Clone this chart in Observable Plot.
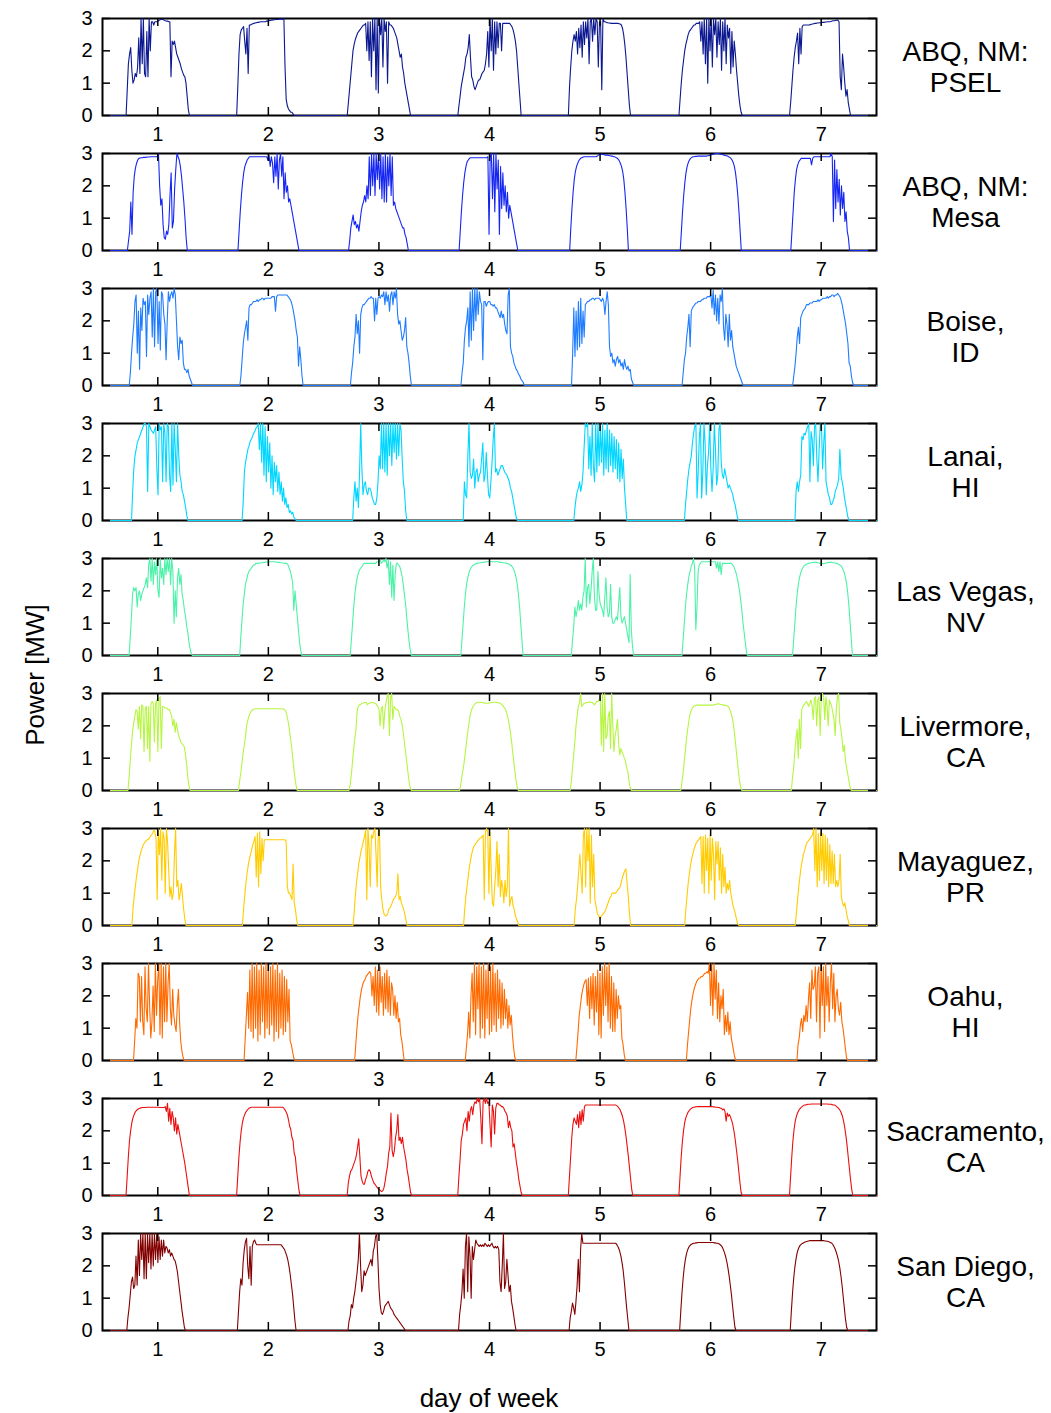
<!DOCTYPE html>
<html><head><meta charset="utf-8">
<script src="https://cdn.jsdelivr.net/npm/d3@7"></script>
<script src="https://cdn.jsdelivr.net/npm/@observablehq/plot@0.6"></script>
<style>
body{margin:0;background:#fff;font-family:"Liberation Sans",Arial,sans-serif;}
#chart{position:relative;width:1051px;height:1413px;background:#fff;overflow:hidden;}
.panel{position:absolute;left:0;}
#ylab{position:absolute;left:35px;top:675px;transform:translate(-50%,-50%) rotate(-90deg);font-size:26px;white-space:nowrap;}
#xlab{position:absolute;left:489px;top:1398px;transform:translate(-50%,-50%);font-size:26px;white-space:nowrap;}
</style></head><body>
<div id="chart"><div id="ylab">Power [MW]</div><div id="xlab">day of week</div></div>
<script>
// ---- data ----
const days = [1, 2, 3, 4, 5, 6, 7];
const powerTicks = [0, 1, 2, 3];
const sites = ["ABQ, NM:\nPSEL", "ABQ, NM:\nMesa", "Boise,\nID", "Lanai,\nHI", "Las Vegas,\nNV",
  "Livermore,\nCA", "Mayaguez,\nPR", "Oahu,\nHI", "Sacramento,\nCA", "San Diego,\nCA"];
const colors = ["#0c1890", "#1626f2", "#1f7cff", "#00d6ff", "#4cf2a8", "#b6f542", "#ffcc00", "#ff6a00", "#ea1010", "#820000"];
// sunrise hour of each site's first sample; samples every 15 minutes (values in MW)
const riseHour = [5.12, 5.4, 5.8, 6.3, 5.78, 5.52, 6.37, 6.73, 5.11, 5.27];
const stepHours = 0.25;

const abqPsel = [
"0 .8 1.6 1.9 2.1 1.4 1 1.1 1.3 1.2 1.5 2.4 1.3 3 1.6 3 1.3 1.2 2.6 1.2 3 2 2.9 2.9 2.8 2.9 2.9 2.9 2.92 2.95 2.97 2.98 2.97 2.95 2.93 2.92 2.92 2.9 2.9 1.2 2.3 2.2 2.3 2.1 1.9 1.8 1.7 1.6 1.45 1.35 1.25 1.2 1 .6 .2 0",
"0 .9 1.9 2.5 2.65 2.7 2.75 2.3 1.9 2.7 1.3 2.8 2.8 2.82 2.84 2.85 2.86 2.87 2.88 2.88 2.89 2.9 2.9 2.9 2.9 2.9 2.92 2.92 2.93 2.94 2.95 2.95 2.96 2.96 2.97 2.97 2.97 2.98 2.98 2.98 2.98 3 1.5 .5 .3 .2 .15 .1 .1 .05 0",
"0 .4 .8 1.2 1.6 2 2.2 2.35 2.45 2.55 2.6 2.65 2.7 2.75 2.8 2.8 2.85 2 2.9 1.7 2.9 1.2 3 2 3 .8 3 .7 3 2.5 3 1.5 3 2.6 2.9 1 2.9 2.8 2.8 2.75 2.7 2.6 2.5 2.4 2.2 2 1.8 1.9 1.5 1.3 1 .8 .6 .4 .2 0",
"0 .3 .6 .9 1.1 1.3 1.5 1.8 1.9 2.1 2.5 1.8 1.2 1.1 .9 .8 .9 1 1.1 1.1 1.2 1.3 1.35 1.4 1.6 1.9 2.6 1.5 3 2 3 1.4 2.9 1.9 2.9 2.1 2.85 2.85 2 2.85 2.85 2.85 2.85 2.85 2.85 2.85 2.8 2.75 2.65 2.5 2.3 2 1.5 1 .5 0",
"0 .9 1.5 2 2.3 2.5 2.3 2.6 1.9 2.7 2.1 2.8 1.8 2.9 2.2 2.9 2.4 3 1.6 2.9 3 2.3 3 2.5 3 2.9 1.5 2.9 2.9 .8 3 2.9 2.9 2.88 2.87 2.86 2.86 2.85 2.85 2.85 2.85 2.85 2.85 2.85 2.84 2.83 2.8 2.7 2.5 2.2 1.8 1.3 .8 .3 0",
"0 .5 1 1.4 1.7 2 2.2 2.35 2.5 2.6 2.65 2.7 2.75 2.8 2.8 2.85 2.85 2.85 2.9 2.3 2.9 1.9 3 1.6 3 1 3 2 3 1.5 3 2.5 3 1.8 2.9 2.2 3 1.4 2.9 2 3 1.6 2.8 2.4 2.7 1.3 2.6 1.5 2.3 1.9 1.4 1 .6 .3 .1 0",
"0 .4 .9 1.4 1.8 2.1 2.3 2.55 1.6 2.7 1.9 2.75 2.8 2.8 2.8 2.8 2.8 2.8 2.81 2.82 2.83 2.84 2.85 2.85 2.86 2.86 2.87 2.87 2.88 2.88 2.88 2.89 2.89 2.9 2.9 2.9 2.91 2.92 2.93 2.93 2.94 2.95 2.95 2.9 1.2 .8 1.9 1.5 1 .6 .8 .4 .2 0"];

const abqMesa = [
"0 .3 .6 1.5 .5 1.8 2.3 2.55 2.7 2.8 2.85 2.86 2.87 2.87 2.88 2.88 2.88 2.89 2.89 2.89 2.9 2.9 2.9 2.9 2.9 2.9 2.9 3 2 1.4 1.6 .8 .4 .35 .6 .5 .8 1.7 2.4 .7 .9 1.9 2.5 3 2.9 2.8 2.6 2.3 1.9 1.5 1 .4 0",
"0 .6 1.2 1.7 2.1 2.4 2.6 2.7 2.8 2.85 2.9 2.9 2.9 2.9 2.9 2.9 2.9 2.9 2.9 2.9 2.9 2.9 2.9 2.9 2.9 2.9 2.8 2.95 2.6 2.9 2.7 2.1 2.9 2.3 3 1.9 2.8 3 2.3 2.9 1.6 2.4 1.8 2 1.5 1.6 1.4 1.2 1 .8 .6 .4 .2 0",
"0 .3 .7 .9 1.1 .8 .9 .7 .8 .6 .9 1.2 1.4 1.5 1.7 1.5 2 1.6 2.9 1.7 3 2 3 1.7 3 2.2 3 1.9 3 1.6 2.9 1.5 3 1.5 2.9 2 3 1.7 2.9 1.4 1.5 1.3 1.2 1.1 1 .9 .8 .7 .7 .5 .4 .2 0",
"0 .6 1.2 1.7 2.1 2.4 2.6 2.75 2.8 2.85 2.87 2.87 2.87 2.87 2.87 2.87 2.87 2.87 2.87 2.87 2.87 2.87 2.87 2.87 2.87 2.9 .5 2.9 3 1.6 3 1.2 3 1.9 2.8 .5 2.6 1.3 2.4 1.4 2 1.2 1.8 1 1.4 1.2 1 .8 .6 .4 .2 0",
"0 .7 1.3 1.8 2.2 2.45 2.6 2.7 2.78 2.83 2.86 2.88 2.89 2.9 2.9 2.9 2.9 2.9 2.9 2.9 2.9 2.9 2.9 2.9 2.92 2.95 2.97 2.98 2.98 2.97 2.96 2.95 2.95 2.95 2.94 2.93 2.92 2.92 2.9 2.9 2.88 2.86 2.83 2.78 2.7 2.6 2.45 2.2 1.8 1.3 .7 0",
"0 .6 1.2 1.7 2.1 2.4 2.6 2.72 2.8 2.85 2.88 2.9 2.9 2.91 2.91 2.92 2.92 2.92 2.92 2.92 2.92 2.92 2.92 2.92 2.93 2.94 2.95 2.96 2.97 2.98 2.99 3 3 3 2.99 2.98 2.97 2.96 2.95 2.94 2.93 2.92 2.9 2.88 2.85 2.8 2.72 2.6 2.4 2.1 1.7 1.2 .6 0",
"0 .6 1.2 1.8 2.2 2.5 2.65 2.75 2.8 2.85 2.85 2.85 2.85 2.85 2.85 2.85 2.85 2.85 2.65 2.85 2.9 2.9 2.9 2.9 2.9 2.9 2.9 2.9 2.9 2.9 2.9 2.9 2.9 2.9 2.9 3 2.9 .9 2.8 1.3 2.5 1.5 2.2 1.1 2 1.3 1.8 .9 1.2 .6 .4 0"];

const boise = [
"0 .4 1 1.5 1.9 2.6 2.8 1 2.3 .5 2.4 1.7 2.7 2.5 2.6 .9 2.8 2.2 2.7 2.9 1.5 3 1.2 2.9 3 1.3 2.6 1.1 2.9 2.8 2.2 1.9 .8 2 2.9 2.6 2.8 2.9 2.7 3 2.8 2 1.2 .8 1.5 1.3 1.4 .7 .5 .5 .4 .5 .3 .2 .1 0",
"0 .3 .8 1.3 1.6 1.8 2 1.4 2.4 2.5 2.5 2.55 2.6 2.6 2.6 2.65 2.6 2.65 2.65 2.7 2.7 2.65 2.7 2.7 2.7 2.7 2.7 2.7 2.75 2.75 2.75 2.3 2.75 2.8 2.8 2.8 2.8 2.8 2.8 2.8 2.8 2.8 2.75 2.7 2.65 2.55 2.4 2.2 2 1.7 1.5 .6 1.2 .8 .3 0",
"0 .4 .7 1.2 1.5 2.2 1.6 2 1 2.2 2.4 2.5 2.5 2.55 2.6 2.65 2.7 2.7 2.75 2.7 2.7 2 2.7 2.2 2.7 2.75 2.7 2.8 2.75 2.9 2.5 2.9 2.6 2.8 2.3 2.8 2.9 2.5 2.9 2.7 3 2.2 1.9 2 1.7 1.4 1.5 1.7 2.1 1.2 1 .7 .3 0",
"0 .4 .7 1.4 1.8 2 2.4 1.2 2.9 1.4 3 1.7 3 2 3 2.2 2.9 2.6 2.5 .8 2.6 2.6 2.45 2.55 2.6 2.6 2.5 2.5 2.45 2.5 2.4 2.4 2.3 2.2 2.1 2.3 2.1 2.2 1.9 1.7 1.6 2.8 3 1.2 1 .9 .7 .6 .5 .45 .35 .3 .2 .15 .1 0",
"0 1 2.4 .9 2.3 1.1 2.6 1.2 2.7 1.3 2.3 1.5 2.5 2.55 2.6 2.6 2.65 2.65 2.7 2.7 2.65 2.7 2.7 2.7 2.7 2.65 2.6 2.7 2.6 2.2 2.6 2.9 2.5 1.2 .9 1 .7 .8 .6 .8 .9 .7 .8 .6 .7 .5 .8 .6 .5 .6 .45 .5 .2 .1 0",
"0 .4 .8 1 1.5 1.8 2.2 1.2 2.3 2.4 2.45 2.5 2.55 2.55 2.6 2.6 2.6 2.65 2.65 2.7 2.7 2.7 2.75 2.75 2.75 2.8 2.4 2.95 2.2 2.8 2 2.7 1.9 2.8 2.6 3 1.8 1.4 2.2 1.9 1.2 2.2 1.4 1.7 1.2 1 .8 .6 .5 .4 .3 .2 .1 0",
"0 .3 .6 1 1.5 1.8 1.3 2.1 2.2 2.3 2.35 2.4 2.5 2.5 2.5 2.55 2.55 2.55 2.6 2.6 2.6 2.6 2.65 2.6 2.65 2.65 2.7 2.7 2.7 2.7 2.75 2.7 2.75 2.75 2.8 2.8 2.75 2.8 2.8 2.85 2.8 2.75 2.65 2.5 2.3 2.1 1.9 1.6 1.3 .7 .6 .3 .1 0"];

const lanai = [
"0 .9 1.6 2 2.2 2.4 2.5 2.6 2.7 2.8 2.9 3 3 2.9 .9 3 2.9 2.8 2.75 2.7 2.8 2.9 1.6 .8 3 2.8 2.9 1.2 3 2.7 1.2 3 2.9 1.4 .9 3 1.1 3 2.2 1.2 3 2 1.4 1.2 .9 .8 .6 .4 .15 0",
"0 .6 1.5 1.8 2 2.2 2.3 2.45 2.5 2.6 2.7 2.75 2.85 2.9 3 2.2 3 1.8 3 1.4 2.9 1.2 2.6 1.5 2.4 1 2 .8 1.8 1.2 1.7 .9 1.5 .8 1.2 .6 1 .5 .7 .4 .5 .25 .3 .2 .25 .1 .05 0",
"0 .7 1.2 .6 1 .4 1.5 3 1.6 .8 1.1 1.2 .9 .8 1 1 .9 .7 .6 .5 .5 .7 1.2 2 1.6 3 1.6 3 1.5 3 1.4 3 2 3 1.7 3 2.1 3 1.9 3 2 3 2.8 1.9 1.2 .9 .3 0",
"0 1.2 .8 .7 2 3 1.5 1.3 1.4 1.9 1 1.5 1.6 1.2 1.4 1.5 1.9 2.4 1.2 1.4 2.1 1.4 .8 .7 1.2 1.8 2.5 3 1.5 1.6 1.4 1.5 1.6 1.7 1.7 1.6 1.5 1.45 1.4 1.3 1.2 1 .9 .7 .5 .3 .1 0",
"0 .4 .7 .9 1 1.2 .9 1.1 1.5 2.3 3 2.9 3 1.6 2.6 1.4 3 1.7 1.2 3 1.5 3 1.7 2.9 1.8 3 1.4 2.8 1.6 3 1.5 2.8 1.7 2.7 1.5 2.6 1.6 2.5 1.3 2.4 1.2 2.2 1.3 1.9 1 .5 0",
"0 .5 .9 1.3 1.6 1.8 2 2.4 2.7 2.9 3 .7 1.5 2.6 3 .7 1.5 3 2.4 .8 1.7 2.1 3 1.6 .9 1.6 3 2.2 1.1 1.4 2.8 3 1.8 1.4 1.3 1.6 1.4 1.2 1 1.1 1 .9 .8 .6 .5 .3 .1 0",
"0 .9 1.2 .9 1.2 1.4 2.6 2.5 2.7 2.65 2.8 2.9 3 1.2 2.75 2.5 1.7 2.9 3 1.9 1.2 2.2 3 3 1.6 2.4 3 1.2 1 .8 .7 .5 .5 .6 .7 .9 1 1.1 1.3 2.2 1.4 1.2 1 .7 .5 .3 .1 0"];

const lasVegas = [
"0 .6 1.2 1.9 2.1 2 2.1 1.5 1.9 2 1.7 1.9 2 2.1 2.2 2.4 2.1 2.8 3 2.3 3 2.2 2.9 2.5 3 2 1.8 3 2.4 2.7 2.2 3 2.5 3 2.6 3 2.2 3 2.6 1 2 1.2 2.4 2.7 2.2 2.5 1.9 1.7 1.4 1.2 .9 .7 .4 .2 .05 0",
"0 .6 1.1 1.6 1.9 2.2 2.35 2.5 2.6 2.65 2.7 2.75 2.8 2.8 2.85 2.85 2.85 2.86 2.86 2.87 2.87 2.88 2.88 2.89 2.89 2.9 2.9 2.9 2.9 2.9 2.9 2.89 2.89 2.88 2.88 2.87 2.87 2.86 2.86 2.85 2.85 2.85 2.8 2.7 2.6 2.45 2.25 1.4 2 1.6 1.2 .8 .4 .15 0",
"0 .5 1 1.5 1.9 2.2 2.4 2.55 2.65 2.7 2.75 2.8 2.85 2.85 2.85 2.85 2.85 2.85 2.85 2.85 2.85 2.85 2.85 2.9 2.9 2.9 2.95 2.85 2.9 2.95 2.9 3 2.7 2.95 2.2 2.9 1.8 2.8 1.7 2.5 2.85 2.85 2.8 2.75 2.6 2.45 2.2 1.9 1.6 1.2 .8 .45 .2 0",
"0 .5 1 1.5 1.9 2.2 2.4 2.55 2.65 2.72 2.77 2.8 2.82 2.84 2.85 2.86 2.86 2.87 2.87 2.88 2.88 2.89 2.9 2.9 2.9 2.9 2.9 2.9 2.9 2.9 2.9 2.9 2.9 2.89 2.88 2.88 2.87 2.87 2.86 2.86 2.85 2.84 2.82 2.8 2.77 2.72 2.65 2.55 2.4 2.2 1.9 1.5 1 .5 0",
"0 .5 .9 1.5 1.2 1.4 1.7 1.4 1.6 1.4 1.8 2 3 1.5 2.1 2.2 1.6 2 2.6 3 1.8 1.4 1.4 2.6 1.9 1.6 1.5 1.4 1.2 1.8 2.4 1.5 1.2 1.3 2.2 1.2 1 1 1.1 1.2 1.1 1.6 2.1 1.2 1 1.1 1.2 1 .8 .6 .4 2.5 .8 .3 0",
"0 .5 1 1.5 1.9 2.2 2.45 2.6 2.75 2.85 3 2.7 .8 1.5 2.6 2.8 2.85 2.9 2.9 2.9 2.9 2.9 2.9 2.9 2.9 2.9 2.9 2.9 2.9 2.9 2.7 2.9 2.6 2.9 2.5 2.85 2.85 2.85 2.85 2.85 2.85 2.85 2.85 2.85 2.8 2.75 2.65 2.55 2.4 2.2 2 1.7 1.4 1 .7 .4 .1 0",
"0 .5 1 1.5 1.9 2.2 2.4 2.55 2.65 2.72 2.77 2.8 2.82 2.84 2.85 2.86 2.87 2.87 2.88 2.88 2.88 2.88 2.87 2.86 2.85 2.85 2.84 2.84 2.85 2.86 2.87 2.88 2.88 2.88 2.88 2.87 2.87 2.86 2.85 2.84 2.82 2.8 2.77 2.72 2.65 2.55 2.4 2.2 1.9 1.5 1 .5 0"];

const livermore = [
"0 .4 .9 1.4 1.8 2.1 2.3 2.5 2.45 1.9 2.6 1.6 2.65 2.6 1.2 2.55 2.6 1.3 2.6 .9 2.7 2.75 2.7 1.5 2.7 2.8 1.2 2.85 2.9 1.3 2.6 2.6 2.55 2.55 2.55 2.5 2.5 2.4 2.3 2 2.2 1.8 2.1 1.9 1.7 1.6 1.5 1.45 1.4 1.35 1.1 .8 .4 .15 0",
"0 .3 .55 .85 1.15 1.4 1.65 2 2.15 2.3 2.38 2.45 2.49 2.51 2.52 2.53 2.53 2.53 2.53 2.53 2.53 2.53 2.53 2.53 2.53 2.53 2.53 2.53 2.53 2.53 2.53 2.53 2.53 2.53 2.53 2.53 2.53 2.53 2.53 2.52 2.5 2.45 2.33 2.15 1.92 1.65 1.4 1.05 .7 .4 .15 0",
"0 .2 .5 .9 1.3 1.6 1.9 2.45 2.6 2.65 2.65 2.7 2.7 2.72 2.72 2.72 2.65 2.7 2.7 2.72 2.72 2.72 2.7 2.7 2.65 2.6 2.5 2 2.55 2.6 1.9 2.45 2.7 2.9 3 1.7 2.85 3 2.2 2.6 2.55 2.5 2.5 2.45 2.3 2.2 2.05 1.8 1.5 1.2 .9 .6 .3 .1 0",
"0 .2 .45 .65 .9 1.2 1.5 1.8 2.05 2.3 2.45 2.55 2.62 2.66 2.7 2.72 2.73 2.73 2.73 2.72 2.72 2.71 2.7 2.7 2.7 2.7 2.71 2.72 2.72 2.73 2.73 2.73 2.72 2.72 2.71 2.7 2.68 2.65 2.6 2.55 2.5 2.38 2.23 2.05 1.82 1.55 1.2 .9 .59 .3 .1 0",
"0 .3 .7 1.1 1.5 2 2.3 2.6 2.7 3 2.6 2.65 2.7 2.7 2.72 2.72 2.72 2.75 2.72 2.72 2.7 2.65 2.7 2.75 2.75 2.8 2.95 1.4 3 1.2 3 1.6 1.7 2.3 2.45 1.3 3 2 1.2 1.7 1.9 2.2 1.5 1.1 1.3 1.2 1.1 1 .9 .7 .6 .3 .1 0",
"0 .25 .55 .9 1.25 1.6 1.9 2.15 2.35 2.47 2.55 2.6 2.62 2.63 2.64 2.64 2.64 2.64 2.64 2.64 2.64 2.64 2.64 2.64 2.64 2.64 2.64 2.64 2.64 2.65 2.66 2.67 2.68 2.68 2.67 2.66 2.65 2.64 2.64 2.63 2.62 2.6 2.55 2.47 2.35 2.2 1.95 1.65 1.3 .95 .6 .3 .1 0",
"0 .4 .7 1.2 1.6 1.9 1 2.2 1.3 2.5 2.6 2.65 2.7 2.75 2.7 2.6 2.7 2.8 2.6 2.2 2.85 2.9 2 2.8 2.9 1.7 2.95 3 2.9 2.2 2.9 2.6 2 2.8 2.7 2.6 2.4 2.2 1.7 2.5 2.9 3 2.1 1.9 1.6 1.2 1.4 .9 .7 .5 .3 .1 0"];

const mayaguez = [
"0 .5 .9 1.2 1.5 1.75 2 2.15 2.3 2.4 2.5 2.55 2.6 2.65 2.65 2.7 2.75 2.8 2.85 2.95 2.9 2.7 .8 3 2.2 3 1.4 2.9 2.7 1 3 2.6 1.7 .9 1.2 .8 1 2.2 3 1.2 1.4 .8 1 1.3 .9 .5 .2 0",
"0 .5 .9 1.3 1.6 1.85 2.05 2.2 2.35 2.5 2.6 2.75 1.5 2.85 1.2 2.9 1.6 2.7 2 2.65 2.65 2.65 2.65 2.65 2.65 2.65 2.65 2.65 2.65 2.65 2.65 2.65 2.65 2.65 2.65 2.65 2.65 2.65 2.6 1.2 1 1 .9 .8 1.9 .7 .5 .2 0",
"0 .4 .9 1.3 1.6 1.9 2.1 2.3 2.45 2.6 2.75 2.95 .8 3 2.4 1.2 2.8 2.7 2.9 3 2.2 1.2 2.9 3 1.2 .8 .5 .35 .3 .3 .35 .5 .55 .6 .7 .8 .85 .9 1 1.6 .8 .9 .7 .6 .5 .35 .15 0",
"0 .5 .9 1.2 1.5 1.8 2 2.2 2.35 2.45 2.5 2.55 2.6 2.65 2.7 2.7 2.75 2.8 .8 2.9 3 2.9 1 2.9 1.7 .7 .6 1.2 1.7 2.6 1.2 2.2 .9 1.4 1.2 .7 1.4 .9 1.2 3 .6 .8 .9 .6 .5 .3 .2 .1 0",
"0 .5 .8 1.2 1.7 2.2 1.6 1 2.8 3 1.2 3 2 3 .7 2.8 1.2 2.2 .8 .6 .4 .3 .25 .25 .3 .35 .4 .45 .55 .65 .75 .85 .9 1 1 1 1 1.05 1.1 1.15 1.2 1.35 1.5 1.6 1.7 1.75 1.3 .9 .4 0",
"0 .5 .9 1.3 1.6 1.85 2.05 2.2 2.35 2.45 2.55 2.6 2.65 2.7 2.75 1.3 2.75 1 2.8 1.7 2.7 1 2.8 1.4 2.7 2.2 .8 2.6 1.9 2.6 1.4 2.4 1 2.2 1.2 1.8 1 1.3 1.1 1.4 1 .8 .6 .5 .35 .2 .05 0",
"0 .4 .8 1.2 1.5 1.8 2 2.2 2.3 2.45 2.55 2.6 2.65 2.7 2.75 2.8 3 1.7 3 1.2 2.85 1.4 2.9 1.7 2.85 1.3 2.8 1.4 2.7 1.2 2.5 1.3 2.3 1.3 2.2 1.2 1.4 1.2 1.4 2.2 .9 .7 .6 .7 .5 .3 .15 0"];

const oahu = [
"0 .6 1.3 1 2.7 2.6 1.2 2.6 1.2 .8 2.9 1.6 1.2 3 1.7 .7 1.2 2.3 .9 3 1.4 2.5 3 .8 3 .7 2.9 1.2 3 1.2 2.4 3 1.6 1.1 2.2 1.4 1.1 .9 1.7 2.2 1.2 .6 .3 .1 0",
"0 .7 1.4 2.1 1 2.8 .9 3 .7 2.9 1 3 .6 2.8 .8 3 1.2 2.9 .7 3 1 3 .8 2.9 1.1 3 .6 2.8 .9 3 .7 2.7 1 2.8 .8 2.6 .9 2.5 1.2 2.2 .6 .5 .3 .1 0",
"0 .5 1 1.4 1.7 2 2.2 2.35 2.45 2.5 2.6 2.65 2.7 2.75 2.7 2 2.6 1.7 2.9 1.5 2.8 1.4 2.9 1.8 2.6 1.4 2.7 1.6 2.8 1.5 2.6 1.4 2.4 2.2 1.4 2 1.3 1.8 1.2 1.3 .8 .6 .3 0",
"0 .4 .8 1.5 .7 2 2.7 1.2 3 .8 2.9 1.6 3 .7 2.9 1 3 .7 2.8 1.3 3 .8 2.9 .9 3 1.1 2.7 .9 2.8 1.3 2.5 1 2.4 1.1 2.2 1.3 1.9 1 1.7 1.1 1.4 .8 .4 .1 0",
"0 .4 .9 1.4 1.7 2 2.2 2.35 2.45 2.5 1.7 2.55 1.3 2.6 1.6 2.7 1.1 2.6 1.5 2.8 .8 2.7 .7 2.9 1.4 3 1.7 2.9 1.2 3 1 2.6 .9 2.4 .9 2.2 1.3 2 1.6 1.7 .7 .5 .2 0",
"0 .5 .9 1.3 1.65 1.9 2.1 2.25 2.35 2.45 2.5 2.55 2.55 2.6 2.6 2.65 2.7 2.7 2.75 2.7 3 1.7 3 1.4 3 1.9 2.8 1.3 2.4 1.2 2 1.6 2.2 .8 1.4 .9 1.5 .8 1.2 .7 .5 .3 .1 0",
"0 .5 .7 1.1 1.3 .9 1.4 1.2 1.7 1.2 1.9 2.4 1.3 2.8 2.2 2.3 2.9 1.2 2.7 2.9 .7 3 1.7 2.9 .9 3 1.7 2.6 1.2 2.4 3 1.6 2.7 1.2 2 2.2 1.6 1.4 1.8 1.2 1 .7 .4 .1 0"];

const sacramento = [
"0 .6 1.2 1.7 2 2.25 2.4 2.5 2.58 2.63 2.66 2.68 2.7 2.71 2.72 2.72 2.72 2.72 2.73 2.73 2.73 2.73 2.73 2.73 2.73 2.73 2.73 2.73 2.73 2.72 2.72 2.72 2.72 2.72 2.75 2.6 2.85 2.3 2.7 2.2 2.6 2.4 2 2.4 1.9 2.2 2 1.8 1.6 1.4 1.2 1 .75 .5 .25 0",
"0 .6 1.2 1.65 2 2.25 2.4 2.5 2.58 2.63 2.67 2.7 2.72 2.73 2.73 2.73 2.73 2.73 2.73 2.73 2.73 2.73 2.73 2.73 2.73 2.73 2.73 2.73 2.73 2.73 2.73 2.73 2.73 2.73 2.73 2.73 2.73 2.73 2.73 2.73 2.73 2.7 2.65 2.58 2.5 2.35 2.15 2.05 1.8 1.7 1.3 1.2 .8 .5 .2 0",
"0 .4 .6 .75 .8 .9 1 1.1 1.25 1.5 1.75 1.2 .6 .45 .35 .35 .5 .6 .75 .8 .75 .6 .5 .4 .35 .3 .25 .2 .18 .15 .12 .15 .25 .45 .7 .9 1.3 1.5 2.55 1.4 1.2 1.4 1.8 2 2.5 1.7 1.8 1.6 1.8 1.5 1.3 1.1 .8 .6 .35 .1 0",
"0 .6 1.1 1.7 1.9 2.2 2.3 2.4 2 2.6 2.3 2.65 2.75 2.5 2.8 2.9 2.85 3 2.9 3 2.4 1.6 2.9 3 2.85 3 2.85 2.9 2.2 1.5 2.8 2.6 1.9 2.7 2.85 2.85 2.8 2.8 2.75 2.75 2.7 2.6 2.55 2.45 2.1 2.3 2.1 2 1.5 1.6 1.3 1 .8 .5 .3 .1 0",
"0 .6 1.2 1.8 2.2 2.4 2.3 2.2 2.5 2.1 2.6 2.2 2.65 2.3 2.75 2.8 2.8 2.8 2.8 2.8 2.8 2.8 2.8 2.8 2.8 2.8 2.8 2.8 2.8 2.8 2.8 2.8 2.8 2.8 2.8 2.8 2.8 2.8 2.8 2.8 2.8 2.8 2.78 2.75 2.7 2.65 2.55 2.45 2.3 2.1 1.85 1.55 1.25 .9 .55 .2 0",
"0 .6 1.2 1.65 2 2.25 2.4 2.5 2.58 2.63 2.67 2.7 2.72 2.73 2.74 2.74 2.75 2.75 2.75 2.75 2.75 2.75 2.75 2.75 2.75 2.75 2.75 2.75 2.75 2.75 2.74 2.74 2.73 2.73 2.72 2.72 2.7 2.7 2.65 2.68 2.6 2.3 2.55 2.45 2.5 2.4 2.3 2.15 1.95 1.7 1.4 1.1 .75 .4 .1 0",
"0 .6 1.2 1.7 2.05 2.3 2.45 2.55 2.63 2.68 2.72 2.75 2.78 2.8 2.8 2.81 2.82 2.82 2.82 2.83 2.83 2.83 2.83 2.83 2.83 2.83 2.83 2.83 2.83 2.83 2.83 2.83 2.83 2.83 2.82 2.82 2.82 2.81 2.8 2.8 2.78 2.75 2.72 2.68 2.63 2.55 2.45 2.3 2.1 1.85 1.55 1.2 .85 .5 .2 0"];

const sanDiego = [
"0 .4 .7 1.1 1.5 1.65 1.3 1.4 2.3 1.4 2.8 1.7 3 2.2 3 1.6 3 1.6 3 2.1 3 1.9 3 2 3 2.2 3 2.1 2.9 2.2 2.8 2.3 2.8 2.4 2.6 2.55 2.4 2.5 2.3 2.4 2.3 2.2 2.15 2 1.8 1.5 1.2 .9 .6 .35 .1 0",
"0 .6 1.2 1.6 1.4 2.1 2.5 2.75 2.85 2 1.6 2.6 1.4 2.6 2.75 2.8 2.7 2.65 2.65 2.65 2.65 2.65 2.65 2.65 2.65 2.65 2.65 2.65 2.65 2.65 2.65 2.65 2.65 2.65 2.65 2.65 2.65 2.65 2.65 2.6 2.55 2.5 2.4 2.3 2.15 1.95 1.7 1.4 1.1 .7 .3 0",
"0 .3 .45 .8 .7 1 1.2 1.5 1.8 2.2 3 2 1.2 1.4 1.85 1.7 1.8 1.9 2 2.1 2.2 2 2.45 2.6 2.9 3 2.2 1.3 .8 .55 .5 .6 .75 .8 .85 .9 .8 .7 .65 .6 .5 .45 .4 .35 .3 .25 .2 .15 .1 .05 0",
"0 .5 .8 1.2 1.9 1 2.6 3 1.2 2.9 2.3 1 2.6 2.2 2.5 2.8 2.7 2.65 2.6 2.65 2.6 2.65 2.6 2.7 2.65 2.6 2.65 2.6 2.65 2.7 2.6 2.55 2.6 2.55 2.6 2.5 1.5 1.2 2 3 1.3 1.5 2.2 1.7 1.2 1.4 .9 .7 .45 .2 0",
"0 .4 .6 .85 .7 .5 .9 1.4 2.2 1.2 2.5 3 2.7 2.7 2.7 2.7 2.7 2.7 2.7 2.7 2.7 2.7 2.7 2.7 2.7 2.7 2.7 2.7 2.7 2.7 2.7 2.7 2.7 2.7 2.7 2.7 2.7 2.7 2.7 2.7 2.7 2.68 2.62 2.55 2.45 2.3 2.1 1.85 1.5 1.1 .7 .35 0",
"0 .6 1.15 1.6 1.95 2.2 2.38 2.5 2.58 2.63 2.66 2.68 2.7 2.7 2.71 2.71 2.72 2.72 2.72 2.72 2.72 2.72 2.72 2.72 2.72 2.72 2.72 2.72 2.72 2.72 2.71 2.71 2.7 2.7 2.68 2.66 2.63 2.58 2.5 2.4 2.28 2.12 1.92 1.68 1.4 1.1 .75 .4 .1 0",
"0 .6 1.15 1.6 1.95 2.2 2.4 2.52 2.6 2.65 2.68 2.7 2.72 2.74 2.75 2.76 2.77 2.78 2.78 2.78 2.78 2.78 2.78 2.78 2.78 2.78 2.78 2.78 2.78 2.78 2.77 2.77 2.76 2.75 2.74 2.72 2.7 2.66 2.6 2.52 2.42 2.3 2.15 1.95 1.7 1.4 1.05 .7 .35 .1 0"];

const series = [abqPsel, abqMesa, boise, lanai, lasVegas, livermore, mayaguez, oahu, sacramento, sanDiego];

// ---- build rows ----
function rowsFor(k) {
  const rows = [{x: 0.5, y: 0}];
  series[k].forEach((str, i) => {
    str.trim().split(/\s+/).map(Number).forEach((v, j) => {
      rows.push({x: days[i] + (riseHour[k] + stepHours * j - 12) / 24, y: v});
    });
  });
  rows.push({x: 7.5, y: 0});
  return rows;
}

// ---- layout ----
const W = 1051, ML = 102, MR = W - 876, MT = 18, FH = 97, MB = 35, PITCH = 135;
const FW = W - ML - MR;
const TICK = 8;
const chart = document.getElementById("chart");

sites.forEach((site, k) => {
  const svg = Plot.plot({
    width: W, height: MT + FH + MB,
    marginLeft: ML, marginRight: MR, marginTop: MT, marginBottom: MB,
    x: {domain: [0.5, 7.5], label: null},
    y: {domain: [0, 3], label: null},
    style: {background: "transparent", overflow: "visible", fontFamily: "'Liberation Sans', Arial, sans-serif", fontSize: "20px", color: "black"},
    marks: [
      Plot.frame({stroke: "black", strokeWidth: 2}),
      Plot.line(rowsFor(k), {x: "x", y: "y", stroke: colors[k], strokeWidth: 1.1}),
      Plot.tickX(days, {x: d => d, insetTop: FH - TICK, stroke: "black", strokeWidth: 1.5}),
      Plot.tickX(days, {x: d => d, insetBottom: FH - TICK, stroke: "black", strokeWidth: 1.5}),
      Plot.tickY(powerTicks, {y: d => d, insetRight: FW - TICK, stroke: "black", strokeWidth: 1.5}),
      Plot.tickY(powerTicks, {y: d => d, insetLeft: FW - TICK, stroke: "black", strokeWidth: 1.5}),
      Plot.axisX(days, {tickSize: 0, tickPadding: 11, fontSize: 20, label: null}),
      Plot.axisY(powerTicks, {tickSize: 0, tickPadding: 10, fontSize: 20, label: null}),
      Plot.text([site], {text: d => d, frameAnchor: "right", dx: 89, textAnchor: "middle", fontSize: 28, lineHeight: 1.1, fill: "black"})
    ]
  });
  svg.classList.add("panel");
  svg.style.top = (PITCH * k) + "px";
  chart.appendChild(svg);
});
</script>
</body></html>
